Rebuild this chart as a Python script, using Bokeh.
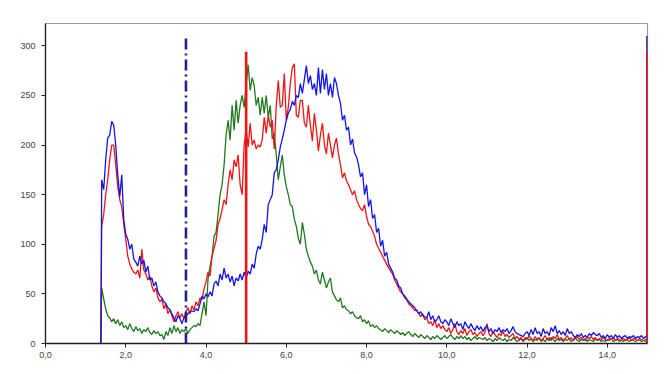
from bokeh.plotting import figure
from bokeh.models import Range1d, FixedTicker
from bokeh.embed import file_html
from bokeh.resources import INLINE

# ---------------- data ----------------
ONSET_X = 1.38          # all traces rise from zero here
X_START = 1.40          # first sample
X_STEP = 0.05           # sample spacing

blue = [
    165, 155, 185, 207, 210, 224, 220, 200, 170, 148,   # 1.40-1.85
    170, 125, 110, 105, 95, 100, 85, 82, 78, 88,        # 1.90-2.35
    80, 84, 72, 78, 64, 66, 58, 62, 52, 48,             # 2.40-2.85
    46, 42, 40, 36, 34, 30, 26, 22, 28, 25,             # 2.90-3.35
    20, 26, 28, 30, 32, 33, 32, 35, 33, 40,             # 3.40-3.85
    48, 45, 50, 47, 52, 48, 60, 63, 58, 70,             # 3.90-4.35
    64, 76, 66, 70, 62, 68, 58, 66, 63, 70,             # 4.40-4.85
    64, 72, 66, 73, 70, 80, 76, 90, 98, 95,             # 4.90-5.35
    105, 120, 112, 140, 145, 150, 172, 175, 185, 198,   # 5.40-5.85
    206, 215, 225, 232, 236, 244, 240, 250, 248, 262,   # 5.90-6.35
    252, 266, 280, 262, 270, 256, 262, 250, 278, 252,   # 6.40-6.85
    276, 256, 272, 250, 262, 248, 268, 262, 250, 242,   # 6.90-7.35
    225, 230, 215, 218, 200, 206, 192, 188, 180, 168,   # 7.40-7.85
    172, 150, 160, 138, 145, 126, 130, 112, 116, 98,    # 7.90-8.35
    104, 88, 92, 80, 76, 72, 66, 64, 58, 56,            # 8.40-8.85
    50, 48, 45, 42, 40, 38, 36, 33, 30, 32,             # 8.90-9.35
    28, 27, 26, 32, 24, 28, 22, 24, 28, 22,             # 9.40-9.85
    20, 24, 22, 18, 25, 20, 16, 22, 18, 20,             # 9.90-10.35
    14, 22, 18, 15, 20, 16, 13, 18, 14, 17,             # 10.40-10.85
    12, 16, 18, 12, 15, 10, 14, 12, 16, 11,             # 10.90-11.35
    14, 12, 15, 10, 13, 17, 12, 10, 9, 8,               # 11.40-11.85
    7, 10, 12, 8, 14, 9, 16, 10, 12, 7,                 # 11.90-12.35
    15, 10, 12, 8, 16, 12, 18, 10, 13, 9,               # 12.40-12.85
    12, 8, 15, 10, 12, 8, 6, 9, 7, 10,                  # 12.90-13.35
    6, 8, 6, 10, 8, 11, 9, 8, 10, 6,                    # 13.40-13.85
    8, 5, 9, 6, 8, 5, 9, 6, 8, 5,                       # 13.90-14.35
    7, 8, 5, 7, 6, 8, 5, 7, 6, 8,                       # 14.40-14.85
    5, 7, 6,                                            # 14.90-15.00
]

red = [
    118, 130, 150, 165, 185, 200, 200, 180, 158, 145,   # 1.40-1.85
    138, 120, 105, 88, 80, 75, 72, 70, 74, 66,          # 1.90-2.35
    95, 74, 70, 64, 68, 58, 52, 56, 46, 42,             # 2.40-2.85
    45, 35, 40, 30, 34, 28, 22, 28, 32, 26,             # 2.90-3.35
    30, 25, 32, 36, 30, 38, 34, 42, 38, 46,             # 3.40-3.85
    44, 55, 62, 72, 68, 88, 96, 104, 120, 126,          # 3.90-4.35
    135, 145, 140, 160, 175, 165, 185, 178, 190, 160,   # 4.40-4.85
    150, 200, 215, 198, 222, 200, 205, 196, 200, 198,   # 4.90-5.35
    205, 228, 212, 230, 218, 225, 196, 240, 265, 238,   # 5.40-5.85
    240, 272, 225, 238, 262, 278, 282, 230, 228, 245,   # 5.90-6.35
    245, 222, 218, 240, 220, 204, 232, 215, 194, 210,   # 6.40-6.85
    222, 200, 191, 212, 200, 187, 200, 207, 191, 180,   # 6.90-7.35
    167, 172, 164, 160, 155, 150, 154, 145, 140, 136,   # 7.40-7.85
    134, 140, 128, 120, 118, 113, 108, 100, 96, 92,     # 7.90-8.35
    88, 84, 80, 76, 73, 70, 64, 60, 56, 52,             # 8.40-8.85
    50, 46, 44, 40, 38, 36, 33, 34, 30, 27,             # 8.90-9.35
    30, 24, 26, 20, 22, 18, 24, 16, 20, 15,             # 9.40-9.85
    18, 14, 12, 16, 10, 14, 20, 12, 9, 13,              # 9.90-10.35
    10, 15, 8, 12, 14, 9, 11, 7, 10, 12,                # 10.40-10.85
    8, 11, 20, 10, 7, 12, 9, 6, 10, 8,                  # 10.90-11.35
    12, 7, 9, 6, 8, 10, 5, 7, 4, 6,                     # 11.40-11.85
    3, 6, 4, 8, 5, 3, 7, 4, 6, 3,                       # 11.90-12.35
    5, 8, 4, 6, 3, 7, 5, 9, 4, 6,                       # 12.40-12.85
    3, 5, 8, 4, 6, 3, 5, 7, 4, 6,                       # 12.90-13.35
    4, 3, 6, 5, 7, 4, 6, 3, 5, 4,                       # 13.40-13.85
    6, 4, 3, 5, 4, 6, 3, 5, 4, 3,                       # 13.90-14.35
    5, 3, 4, 6, 3, 5, 4, 3, 5, 4,                       # 14.40-14.85
    3, 4, 3,                                            # 14.90-15.00
]

green = [
    56, 45, 35, 28, 26, 22, 25, 20, 24, 18,             # 1.40-1.85
    22, 16, 18, 14, 20, 15, 12, 17, 13, 15,             # 1.90-2.35
    10, 14, 12, 16, 11, 9, 13, 10, 12, 8,               # 2.40-2.85
    9, 4, 12, 8, 16, 10, 18, 12, 16, 10,                # 2.90-3.35
    14, 12, 15, 10, 14, 16, 18, 17, 20, 18,             # 3.40-3.85
    30, 42, 28, 65, 78, 88, 108, 112, 130, 150,         # 3.90-4.35
    160, 180, 210, 225, 205, 240, 215, 245, 222, 240,   # 4.40-4.85
    250, 238, 262, 281, 255, 268, 260, 240, 248, 230,   # 4.90-5.35
    248, 232, 250, 228, 240, 206, 212, 190, 165, 178,   # 5.40-5.85
    190, 170, 158, 150, 140, 138, 125, 118, 106, 100,   # 5.90-6.35
    122, 110, 95, 88, 82, 78, 70, 74, 64, 60,           # 6.40-6.85
    72, 64, 56, 62, 66, 52, 48, 44, 42, 46,             # 6.90-7.35
    36, 38, 34, 33, 30, 32, 28, 26, 25, 28,             # 7.40-7.85
    22, 24, 20, 23, 17, 19, 16, 18, 15, 14,             # 7.90-8.35
    12, 15, 13, 11, 14, 12, 10, 13, 11, 9,              # 8.40-8.85
    11, 8, 10, 12, 9, 7, 10, 8, 6, 9,                   # 8.90-9.35
    7, 5, 8, 6, 4, 7, 5, 8, 6, 4,                       # 9.40-9.85
    6, 8, 5, 7, 9, 6, 4, 7, 5, 8,                       # 9.90-10.35
    5, 7, 4, 6, 3, 5, 7, 4, 6, 5,                       # 10.40-10.85
    4, 6, 3, 5, 4, 2, 5, 3, 6, 4,                       # 10.90-11.35
    3, 5, 2, 4, 3, 6, 4, 2, 3, 5,                       # 11.40-11.85
    2, 4, 6, 3, 5, 2, 4, 3, 6, 2,                       # 11.90-12.35
    4, 2, 5, 3, 6, 4, 2, 5, 3, 4,                       # 12.40-12.85
    2, 4, 3, 5, 2, 4, 6, 3, 2, 4,                       # 12.90-13.35
    3, 5, 2, 4, 3, 2, 5, 3, 4, 2,                       # 13.40-13.85
    3, 2, 4, 3, 5, 2, 3, 4, 2, 3,                       # 13.90-14.35
    2, 4, 3, 2, 4, 3, 2, 3, 4, 2,                       # 14.40-14.85
    3, 2, 3,                                            # 14.90-15.00
]

x_ticks = [0, 2, 4, 6, 8, 10, 12, 14]
x_tick_labels = ["0,0", "2,0", "4,0", "6,0", "8,0", "10,0", "12,0", "14,0"]
y_ticks = [0, 50, 100, 150, 200, 250, 300]
y_tick_labels = ["0", "50", "100", "150", "200", "250", "300"]

x_range_max = 15.0
y_range_max = 322.5

blue_marker_x = [3.5]
blue_edge_marker_x = [15.0]
blue_marker_top = 310
red_marker_x = [5.0, 15.0]
red_marker_top = 294


def series_xy(vals):
    xs = [ONSET_X] + [round(X_START + X_STEP * i, 2) for i in range(len(vals))]
    ys = [0] + list(vals)
    return xs, ys


# ---------------- figure ----------------
p = figure(width=661, height=366, output_backend="svg", toolbar_location=None,
           x_range=Range1d(0, x_range_max), y_range=Range1d(0, y_range_max),
           min_border_left=45, min_border_right=14, min_border_top=23, min_border_bottom=23)
p.background_fill_color = "white"
p.border_fill_color = "white"
p.outline_line_color = "#9a9a9a"
p.outline_line_width = 1.2
p.xgrid.visible = False
p.ygrid.visible = False

p.xaxis.ticker = FixedTicker(ticks=x_ticks)
p.xaxis.major_label_overrides = {t: l for t, l in zip(x_ticks, x_tick_labels)}
p.yaxis.ticker = FixedTicker(ticks=y_ticks)
p.yaxis.major_label_overrides = {t: l for t, l in zip(y_ticks, y_tick_labels)}

for ax in (p.xaxis, p.yaxis):
    ax.axis_line_color = "#222222"
    ax.axis_line_width = 1.3
    ax.major_tick_line_color = "#222222"
    ax.major_tick_in = 0
    ax.major_tick_out = 4
    ax.minor_tick_line_color = None
    ax.major_label_text_font = "Liberation Sans"
    ax.major_label_text_font_size = "9px"
    ax.major_label_text_color = "#444444"
p.xaxis.major_label_standoff = 4
p.yaxis.major_label_standoff = 6

gx, gy = series_xy(green)
rx, ry = series_xy(red)
bx, by = series_xy(blue)
p.line(gx, gy, line_color="#1f7a1f", line_width=1.3)
p.line(rx, ry, line_color="#f01414", line_width=1.3)
p.line(bx, by, line_color="#1414e6", line_width=1.3)

# vertical markers
p.segment(x0=blue_marker_x, y0=[0] * len(blue_marker_x), x1=blue_marker_x,
          y1=[blue_marker_top] * len(blue_marker_x),
          line_color="#1c2590", line_width=2.6, line_dash="11 4 2 4")
p.segment(x0=blue_edge_marker_x, y0=[0] * len(blue_edge_marker_x), x1=blue_edge_marker_x,
          y1=[blue_marker_top] * len(blue_edge_marker_x),
          line_color="#1c2590", line_width=2.6)
p.segment(x0=red_marker_x, y0=[0] * len(red_marker_x), x1=red_marker_x,
          y1=[red_marker_top] * len(red_marker_x),
          line_color="#f01414", line_width=2.6)

open("out.html", "w").write(file_html(p, INLINE))
